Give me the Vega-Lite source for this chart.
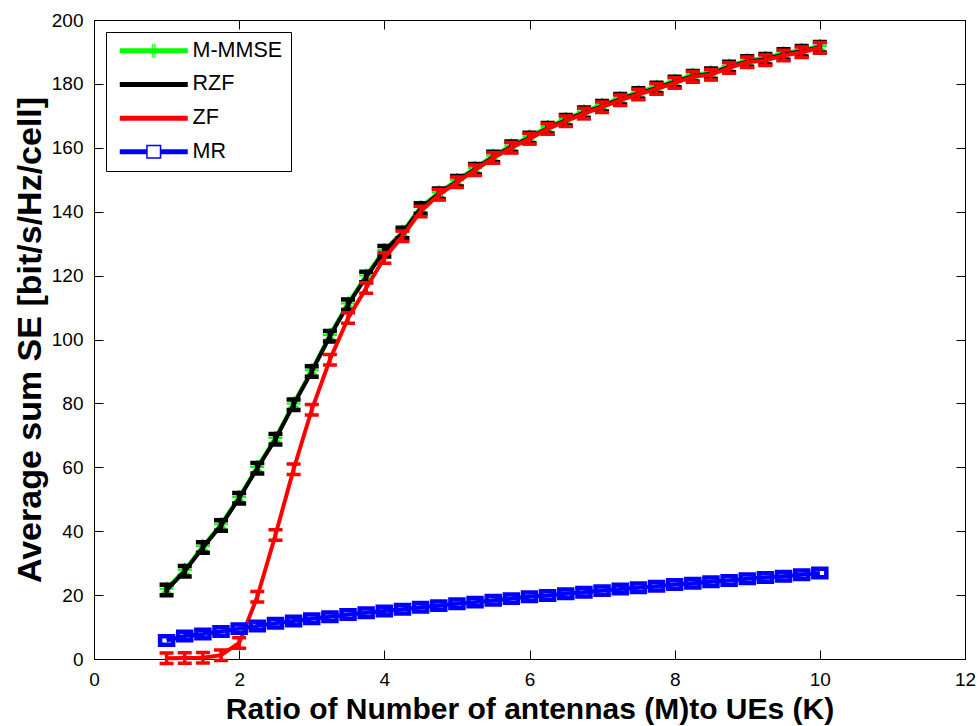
{
  "$schema": "https://vega.github.io/schema/vega-lite/v6.json",
  "width": 871,
  "height": 639,
  "autosize": "none",
  "padding": {"left": 94, "top": 20, "right": 14, "bottom": 67},
  "background": "white",
  "data": {
    "values": [
      {"r": 1, "s": "RZF", "v": 21.6}, {"r": 1, "s": "M-MMSE", "v": 22.0}, {"r": 1, "s": "ZF", "v": 0.2}, {"r": 1, "s": "MR", "v": 5.8},
      {"r": 1.25, "s": "RZF", "v": 27.5}, {"r": 1.25, "s": "M-MMSE", "v": 27.9}, {"r": 1.25, "s": "ZF", "v": 0.3}, {"r": 1.25, "s": "MR", "v": 7.2},
      {"r": 1.5, "s": "RZF", "v": 34.9}, {"r": 1.5, "s": "M-MMSE", "v": 35.3}, {"r": 1.5, "s": "ZF", "v": 0.4}, {"r": 1.5, "s": "MR", "v": 7.8},
      {"r": 1.75, "s": "RZF", "v": 41.8}, {"r": 1.75, "s": "M-MMSE", "v": 42.2}, {"r": 1.75, "s": "ZF", "v": 1.2}, {"r": 1.75, "s": "MR", "v": 8.6},
      {"r": 2, "s": "RZF", "v": 50.3}, {"r": 2, "s": "M-MMSE", "v": 50.7}, {"r": 2, "s": "ZF", "v": 5.0}, {"r": 2, "s": "MR", "v": 9.5},
      {"r": 2.25, "s": "RZF", "v": 59.7}, {"r": 2.25, "s": "M-MMSE", "v": 60.1}, {"r": 2.25, "s": "ZF", "v": 19.5}, {"r": 2.25, "s": "MR", "v": 10.3},
      {"r": 2.5, "s": "RZF", "v": 68.8}, {"r": 2.5, "s": "M-MMSE", "v": 69.2}, {"r": 2.5, "s": "ZF", "v": 38.8}, {"r": 2.5, "s": "MR", "v": 11.2},
      {"r": 2.75, "s": "RZF", "v": 79.6}, {"r": 2.75, "s": "M-MMSE", "v": 80.0}, {"r": 2.75, "s": "ZF", "v": 59.4}, {"r": 2.75, "s": "MR", "v": 11.9},
      {"r": 3, "s": "RZF", "v": 90.0}, {"r": 3, "s": "M-MMSE", "v": 90.4}, {"r": 3, "s": "ZF", "v": 78.0}, {"r": 3, "s": "MR", "v": 12.6},
      {"r": 3.25, "s": "RZF", "v": 101.0}, {"r": 3.25, "s": "M-MMSE", "v": 101.4}, {"r": 3.25, "s": "ZF", "v": 93.7}, {"r": 3.25, "s": "MR", "v": 13.2},
      {"r": 3.5, "s": "RZF", "v": 110.9}, {"r": 3.5, "s": "M-MMSE", "v": 111.3}, {"r": 3.5, "s": "ZF", "v": 106.7}, {"r": 3.5, "s": "MR", "v": 13.9},
      {"r": 3.75, "s": "RZF", "v": 119.6}, {"r": 3.75, "s": "M-MMSE", "v": 120.0}, {"r": 3.75, "s": "ZF", "v": 116.1}, {"r": 3.75, "s": "MR", "v": 14.5},
      {"r": 4, "s": "RZF", "v": 127.6}, {"r": 4, "s": "M-MMSE", "v": 128.0}, {"r": 4, "s": "ZF", "v": 125.5}, {"r": 4, "s": "MR", "v": 15.0},
      {"r": 4.25, "s": "RZF", "v": 133.3}, {"r": 4.25, "s": "M-MMSE", "v": 133.7}, {"r": 4.25, "s": "ZF", "v": 132.3}, {"r": 4.25, "s": "MR", "v": 15.6},
      {"r": 4.5, "s": "RZF", "v": 141.0}, {"r": 4.5, "s": "M-MMSE", "v": 141.4}, {"r": 4.5, "s": "ZF", "v": 140.1}, {"r": 4.5, "s": "MR", "v": 16.2},
      {"r": 4.75, "s": "RZF", "v": 145.6}, {"r": 4.75, "s": "M-MMSE", "v": 146.0}, {"r": 4.75, "s": "ZF", "v": 145.3}, {"r": 4.75, "s": "MR", "v": 16.7},
      {"r": 5, "s": "RZF", "v": 149.5}, {"r": 5, "s": "M-MMSE", "v": 149.9}, {"r": 5, "s": "ZF", "v": 149.2}, {"r": 5, "s": "MR", "v": 17.3},
      {"r": 5.25, "s": "RZF", "v": 153.3}, {"r": 5.25, "s": "M-MMSE", "v": 153.7}, {"r": 5.25, "s": "ZF", "v": 153.0}, {"r": 5.25, "s": "MR", "v": 17.8},
      {"r": 5.5, "s": "RZF", "v": 157.1}, {"r": 5.5, "s": "M-MMSE", "v": 157.5}, {"r": 5.5, "s": "ZF", "v": 156.8}, {"r": 5.5, "s": "MR", "v": 18.4},
      {"r": 5.75, "s": "RZF", "v": 160.3}, {"r": 5.75, "s": "M-MMSE", "v": 160.7}, {"r": 5.75, "s": "ZF", "v": 160.0}, {"r": 5.75, "s": "MR", "v": 18.9},
      {"r": 6, "s": "RZF", "v": 163.1}, {"r": 6, "s": "M-MMSE", "v": 163.5}, {"r": 6, "s": "ZF", "v": 162.8}, {"r": 6, "s": "MR", "v": 19.5},
      {"r": 6.25, "s": "RZF", "v": 166.1}, {"r": 6.25, "s": "M-MMSE", "v": 166.5}, {"r": 6.25, "s": "ZF", "v": 165.9}, {"r": 6.25, "s": "MR", "v": 19.9},
      {"r": 6.5, "s": "RZF", "v": 168.6}, {"r": 6.5, "s": "M-MMSE", "v": 169.0}, {"r": 6.5, "s": "ZF", "v": 168.3}, {"r": 6.5, "s": "MR", "v": 20.4},
      {"r": 6.75, "s": "RZF", "v": 171.0}, {"r": 6.75, "s": "M-MMSE", "v": 171.4}, {"r": 6.75, "s": "ZF", "v": 170.7}, {"r": 6.75, "s": "MR", "v": 20.9},
      {"r": 7, "s": "RZF", "v": 173.0}, {"r": 7, "s": "M-MMSE", "v": 173.4}, {"r": 7, "s": "ZF", "v": 172.7}, {"r": 7, "s": "MR", "v": 21.4},
      {"r": 7.25, "s": "RZF", "v": 175.2}, {"r": 7.25, "s": "M-MMSE", "v": 175.6}, {"r": 7.25, "s": "ZF", "v": 174.9}, {"r": 7.25, "s": "MR", "v": 21.9},
      {"r": 7.5, "s": "RZF", "v": 177.0}, {"r": 7.5, "s": "M-MMSE", "v": 177.4}, {"r": 7.5, "s": "ZF", "v": 176.7}, {"r": 7.5, "s": "MR", "v": 22.3},
      {"r": 7.75, "s": "RZF", "v": 178.7}, {"r": 7.75, "s": "M-MMSE", "v": 179.1}, {"r": 7.75, "s": "ZF", "v": 178.4}, {"r": 7.75, "s": "MR", "v": 22.8},
      {"r": 8, "s": "RZF", "v": 180.6}, {"r": 8, "s": "M-MMSE", "v": 181.0}, {"r": 8, "s": "ZF", "v": 180.3}, {"r": 8, "s": "MR", "v": 23.3},
      {"r": 8.25, "s": "RZF", "v": 182.4}, {"r": 8.25, "s": "M-MMSE", "v": 182.8}, {"r": 8.25, "s": "ZF", "v": 182.2}, {"r": 8.25, "s": "MR", "v": 23.7},
      {"r": 8.5, "s": "RZF", "v": 183.2}, {"r": 8.5, "s": "M-MMSE", "v": 183.6}, {"r": 8.5, "s": "ZF", "v": 182.9}, {"r": 8.5, "s": "MR", "v": 24.2},
      {"r": 8.75, "s": "RZF", "v": 185.3}, {"r": 8.75, "s": "M-MMSE", "v": 185.7}, {"r": 8.75, "s": "ZF", "v": 185.0}, {"r": 8.75, "s": "MR", "v": 24.6},
      {"r": 9, "s": "RZF", "v": 187.0}, {"r": 9, "s": "M-MMSE", "v": 187.4}, {"r": 9, "s": "ZF", "v": 186.8}, {"r": 9, "s": "MR", "v": 25.1},
      {"r": 9.25, "s": "RZF", "v": 187.7}, {"r": 9.25, "s": "M-MMSE", "v": 188.1}, {"r": 9.25, "s": "ZF", "v": 187.4}, {"r": 9.25, "s": "MR", "v": 25.5},
      {"r": 9.5, "s": "RZF", "v": 189.2}, {"r": 9.5, "s": "M-MMSE", "v": 189.6}, {"r": 9.5, "s": "ZF", "v": 188.9}, {"r": 9.5, "s": "MR", "v": 25.9},
      {"r": 9.75, "s": "RZF", "v": 190.2}, {"r": 9.75, "s": "M-MMSE", "v": 190.6}, {"r": 9.75, "s": "ZF", "v": 189.9}, {"r": 9.75, "s": "MR", "v": 26.4},
      {"r": 10, "s": "RZF", "v": 191.5}, {"r": 10, "s": "M-MMSE", "v": 191.9}, {"r": 10, "s": "ZF", "v": 191.3}, {"r": 10, "s": "MR", "v": 26.9}
    ]
  },
  "layer": [
    {
      "encoding": {
        "x": {
          "field": "r", "type": "quantitative",
          "scale": {"domain": [0, 12], "nice": false, "zero": false},
          "axis": {
            "orient": "bottom",
            "values": [0, 2, 4, 6, 8, 10, 12], "format": "d",
            "tickSize": -9, "labelPadding": 20, "labelFlush": false, "labelOverlap": false,
            "labelFontSize": 19,
            "title": "Ratio of Number of antennas (M)to UEs (K)",
            "titleFontSize": 30, "titlePadding": 5
          }
        },
        "y": {
          "field": "v", "type": "quantitative",
          "scale": {"domain": [0, 200], "nice": false, "zero": false},
          "axis": {
            "orient": "left",
            "values": [0, 20, 40, 60, 80, 100, 120, 140, 160, 180, 200], "format": "d",
            "tickSize": -9, "labelPadding": 20, "labelFlush": false, "labelOverlap": false,
            "labelFontSize": 19,
            "title": "Average sum SE [bit/s/Hz/cell]",
            "titleFontSize": 34, "titlePadding": 4
          }
        },
        "color": {
          "field": "s", "type": "nominal",
          "scale": {"domain": ["M-MMSE", "RZF", "ZF", "MR"], "range": ["#00ff00", "#000000", "#ff0000", "#0000ff"]},
          "legend": {
            "title": null,
            "orient": "none",
            "legendX": 12,
            "legendY": 12,
            "strokeColor": "#000000",
            "fillColor": "#ffffff",
            "padding": 8,
            "rowPadding": 10.7,
            "symbolSize": 400,
            "symbolStrokeWidth": 0,
            "labelOffset": 57,
            "labelFontSize": 21.5,
            "labelFont": "Liberation Sans",
            "labelColor": "#000000",
            "encode": {
              "symbols": {
                "update": {
                  "shape": {"signal": "datum.value === 'MR' ? 'M-0.5,-0.25H2.15V0.25H-0.5Z M3.65,-0.25H6.3V0.25H3.65Z M2.15,-0.7H3.65V0.7H2.15Z M2.3,-0.55V0.55H3.5V-0.55Z' : (datum.value === 'M-MMSE' ? 'M-0.5,-0.25H6.3V0.25H-0.5Z M2.75,-0.7H2.87V0.7H2.75Z M2.95,-0.7H3.07V0.7H2.95Z' : 'M-0.5,-0.25H6.3V0.25H-0.5Z')"},
                  "fill": {"scale": "color", "field": "value"},
                  "fillOpacity": {"value": 1},
                  "stroke": {"value": "transparent"},
                  "opacity": {"value": 1}
                }
              }
            }
          }
        }
      },
      "layer": [
        {
          "transform": [{"filter": "datum.s === 'M-MMSE'"}],
          "mark": {"type": "line", "strokeWidth": 4, "point": {"filled": false, "shape": "M-1,0H1M0,-1V1M-0.7,-0.7L0.7,0.7M-0.7,0.7L0.7,-0.7", "size": 196, "strokeWidth": 2}}
        },
        {
          "transform": [{"filter": "datum.s === 'RZF'"}],
          "mark": {"type": "line", "strokeWidth": 4, "point": {"filled": false, "shape": "M-1,-0.75H1M-1,0.75H1M0,-0.75V0.75", "size": 196, "strokeWidth": 4.5}}
        },
        {
          "transform": [{"filter": "datum.s === 'ZF'"}],
          "mark": {"type": "line", "strokeWidth": 4, "point": {"filled": false, "shape": "M-1,-0.75H1M-1,0.75H1M0,-0.75V0.75", "size": 196, "strokeWidth": 3.5}}
        },
        {
          "transform": [{"filter": "datum.s === 'MR'"}],
          "mark": {"type": "line", "strokeWidth": 4, "point": {"filled": false, "shape": "M-1,-0.65H1V0.65H-1Z", "size": 169, "strokeWidth": 4.5}}
        }
      ]
    },
    {
      "mark": {"type": "line", "opacity": 0},
      "encoding": {
        "x": {
          "field": "r", "type": "quantitative",
          "axis": {"orient": "top", "values": [0, 2, 4, 6, 8, 10, 12], "tickSize": -9, "labels": false, "title": null}
        },
        "y": {
          "field": "v", "type": "quantitative",
          "axis": {"orient": "right", "values": [0, 20, 40, 60, 80, 100, 120, 140, 160, 180, 200], "tickSize": -9, "labels": false, "title": null}
        },
        "detail": {"field": "s"}
      }
    }
  ],
  "resolve": {"axis": {"x": "independent", "y": "independent"}},
  "config": {
    "view": {"stroke": "#000000", "strokeWidth": 1},
    "axis": {
      "grid": false,
      "domainColor": "#000000",
      "tickColor": "#000000",
      "labelColor": "#000000",
      "titleColor": "#000000",
      "labelFont": "Liberation Sans",
      "titleFont": "Liberation Sans",
      "titleFontWeight": "bold",
      "domainWidth": 1,
      "tickWidth": 1
    }
  }
}
